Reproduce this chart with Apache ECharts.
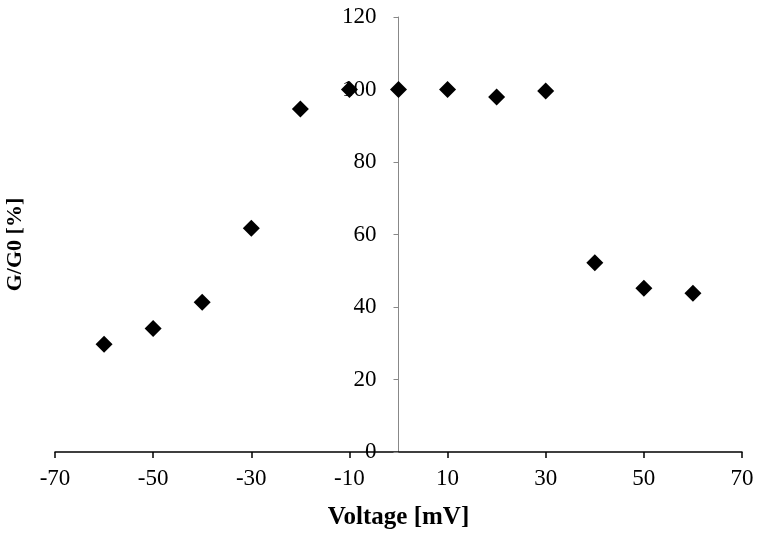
<!DOCTYPE html>
<html>
<head>
<meta charset="utf-8">
<script src="https://cdn.jsdelivr.net/npm/echarts@6/dist/echarts.min.js"></script>
<style>
  html, body { margin: 0; padding: 0; background: #fff; }
  #chart { width: 762px; height: 536px; }
</style>
</head>
<body>
<div id="chart"></div>
<script>
    // voltage steps and normalised conductance
    const voltages = [-60, -50, -40, -30, -20, -10, 0, 10, 20, 30, 40, 50, 60];
    const ratio = [29.7, 34.1, 41.3, 61.7, 94.6, 100, 100, 100, 97.9, 99.6, 52.2, 45.2, 43.8];
    const xTicks = [-70, 70, 20];
    const yTicks = [0, 120, 20];

    const font = '"Liberation Serif", "Times New Roman", serif';
    const gridLeft = 55, gridRight = 20;
    // y axis sits on x = 0, so shift it from the left edge of the grid
    const plotW = 762 - gridLeft - gridRight;
    const yOffset = -plotW * (0 - xTicks[0]) / (xTicks[1] - xTicks[0]);

    let myChart = echarts.init(document.getElementById('chart'));
    let option = {
        animation: false,
        backgroundColor: '#fff',
        grid: {
            left: gridLeft,
            right: gridRight,
            top: 17,
            bottom: 84,
            containLabel: false,
            outerBoundsMode: 'none'
        },
        xAxis: {
            type: 'value',
            min: xTicks[0],
            max: xTicks[1],
            interval: xTicks[2],
            name: 'Voltage [mV]',
            nameLocation: 'middle',
            nameGap: 53,
            nameTextStyle: {
                fontFamily: font,
                fontWeight: 'bold',
                fontSize: 25,
                color: '#000'
            },
            axisLine: {
                onZero: false,
                lineStyle: { color: '#000', width: 1.5 }
            },
            axisTick: {
                show: true,
                length: 6,
                lineStyle: { color: '#000', width: 1.5 }
            },
            axisLabel: {
                fontFamily: font,
                fontSize: 23,
                color: '#000',
                margin: 15
            },
            splitLine: { show: false }
        },
        yAxis: {
            type: 'value',
            position: 'left',
            offset: yOffset,
            min: yTicks[0],
            max: yTicks[1],
            interval: yTicks[2],
            name: 'G/G0 [%]',
            nameLocation: 'middle',
            nameRotate: 90,
            nameGap: 372,
            nameTextStyle: {
                fontFamily: font,
                fontWeight: 'bold',
                fontSize: 22,
                color: '#000',
                padding: [0, 20, 0, 0]
            },
            axisLine: {
                show: true,
                onZero: false,
                lineStyle: { color: '#888', width: 1 }
            },
            axisTick: {
                show: true,
                length: 5,
                lineStyle: { color: '#888' }
            },
            axisLabel: {
                fontFamily: font,
                fontSize: 23,
                color: '#000',
                margin: 22
            },
            splitLine: { show: false }
        },
        series: [{
            type: 'scatter',
            symbol: 'diamond',
            symbolSize: 17,
            itemStyle: { color: '#000', opacity: 1 },
            data: voltages.map((v, i) => [v, ratio[i]])
        }]
    };
    myChart.setOption(option, true);
</script>
</body>
</html>
